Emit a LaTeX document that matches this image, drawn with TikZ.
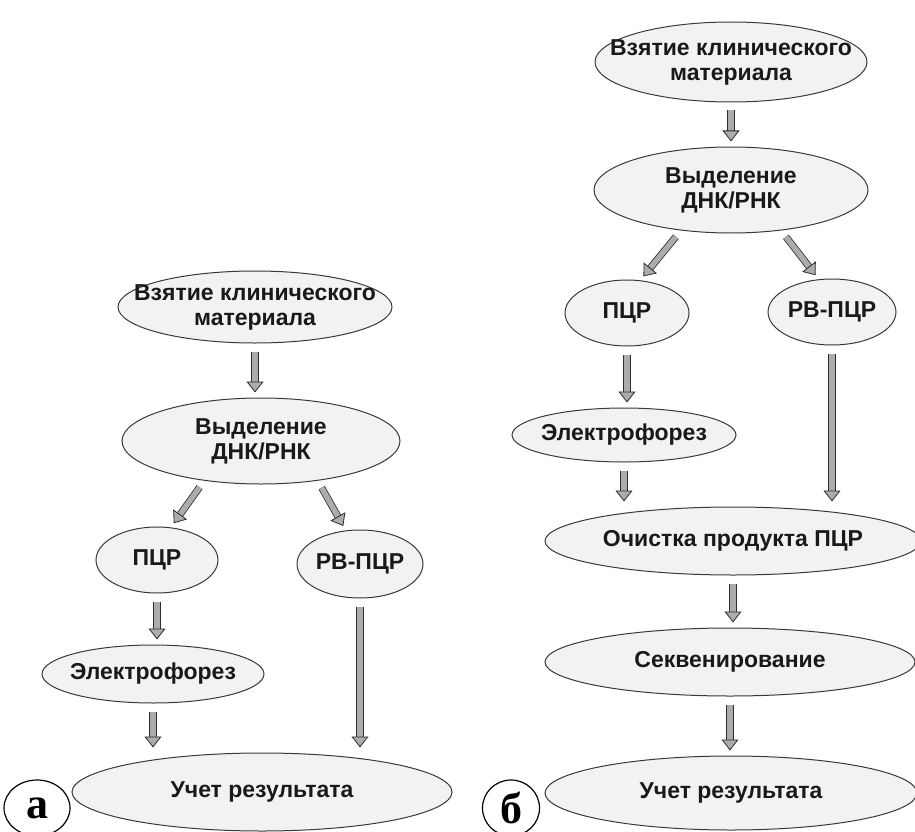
\documentclass[tikz,border=0pt]{standalone}
\usepackage{fontspec}
\setmainfont{Liberation Sans}
\newfontfamily\letterfont{Liberation Serif}
\usetikzlibrary{shapes.geometric,arrows.meta}

\begin{document}
\begin{tikzpicture}[x=1pt,y=-1pt,
    stage/.style={ellipse, draw=gray!45!black, fill=gray!10, line width=1pt, inner sep=0pt},
    stagetext/.style={font=\bfseries\fontsize{23}{25}\selectfont, align=center, text=black!90},
    flow/.style={draw=gray!35!black, double=gray!65, double distance=5.5pt, line width=0.8pt,
        -{Triangle[length=11pt,width=17pt,fill=gray!65]}, shorten <=8pt, shorten >=5pt},
    panel/.style={ellipse, draw=black, line width=1.2pt, inner sep=0pt,
        font=\letterfont\bfseries\fontsize{44}{44}\selectfont}]
\useasboundingbox (0,0) rectangle (915,832);

% scheme a
\node[stage, minimum width=274, minimum height=72,
    label={[stagetext]center:{Взятие клинического\\материала}}] (take-a) at (255,307) {};
\node[stage, minimum width=278, minimum height=86,
    label={[stagetext]center:{Выделение\\ДНК/РНК}}] (isol-a) at (261,441) {};
\node[stage, minimum width=122, minimum height=66,
    label={[stagetext]center:ПЦР}] (pcr-a) at (157,560) {};
\node[stage, minimum width=126, minimum height=68,
    label={[stagetext]center:РВ-ПЦР}] (rtpcr-a) at (360,564) {};
\node[stage, minimum width=222, minimum height=58,
    label={[stagetext]center:Электрофорез}] (elph-a) at (153,674) {};
\node[stage, minimum width=380, minimum height=78,
    label={[stagetext]center:Учет результата}] (res-a) at (262,792) {};
\node[panel, minimum width=66, minimum height=56] (tag-a) at (37,808) {а};

\draw[flow] (take-a.south) -- (take-a.south |- isol-a.north);
\draw[flow] (isol-a.215) -- (pcr-a.67);
\draw[flow] (isol-a.-35) -- (rtpcr-a.113);
\draw[flow] (pcr-a.south) -- (pcr-a.south |- elph-a.north);
\draw[flow] (elph-a.south) -- (elph-a.south |- res-a.north);
\draw[flow] (rtpcr-a.south) -- (rtpcr-a.south |- res-a.north);

% scheme b
\node[stage, minimum width=272, minimum height=80,
    label={[stagetext]center:{Взятие клинического\\материала}}] (take-b) at (731,62) {};
\node[stage, minimum width=274, minimum height=86,
    label={[stagetext]center:{Выделение\\ДНК/РНК}}] (isol-b) at (731,190) {};
\node[stage, minimum width=124, minimum height=66,
    label={[stagetext]center:ПЦР}] (pcr-b) at (627,313) {};
\node[stage, minimum width=128, minimum height=66,
    label={[stagetext]center:РВ-ПЦР}] (rtpcr-b) at (832,312) {};
\node[stage, minimum width=224, minimum height=54,
    label={[stagetext]center:Электрофорез}] (elph-b) at (624,435) {};
\node[stage, minimum width=376, minimum height=68,
    label={[stagetext]center:Очистка продукта ПЦР}] (clean-b) at (733,541) {};
\node[stage, minimum width=370, minimum height=68,
    label={[stagetext]center:Секвенирование}] (seq-b) at (730,662) {};
\node[stage, minimum width=372, minimum height=74,
    label={[stagetext]center:Учет результата}] (res-b) at (731,793) {};
\node[panel, minimum width=57, minimum height=56] (tag-b) at (511,808) {б};

\draw[flow] (take-b.south) -- (take-b.south |- isol-b.north);
\draw[flow] (isol-b.219) -- (pcr-b.68);
\draw[flow] (isol-b.-39) -- (rtpcr-b.112);
\draw[flow] (pcr-b.south) -- (pcr-b.south |- elph-b.north);
\draw[flow] (elph-b.south) -- (elph-b.south |- clean-b.north);
\draw[flow] (rtpcr-b.south) -- (rtpcr-b.south |- clean-b.north);
\draw[flow] (clean-b.south) -- (clean-b.south |- seq-b.north);
\draw[flow] (seq-b.south) -- (seq-b.south |- res-b.north);
\end{tikzpicture}
\end{document}
